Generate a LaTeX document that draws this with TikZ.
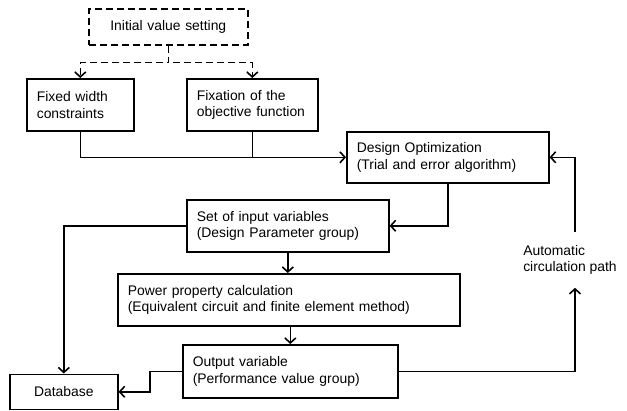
\documentclass[tikz,border=0pt]{standalone}
\usepackage{fontspec}
\setmainfont{Liberation Sans}
\usetikzlibrary{arrows.meta}

\begin{document}
\begin{tikzpicture}[
      x=1pt, y=-1pt, >={Straight Barb[length=5pt,width=11pt]},
      font=\fontsize{13.9}{16.7}\selectfont, line width=1.6pt,
      box/.style={draw, anchor=north west, align=left, inner xsep=10pt,
                  inner ysep=0pt},
      dbox/.style={box, dash pattern=on 7pt off 4pt, align=center},
    ]
    \useasboundingbox (0,0) rectangle (627,410);

    % setting boxes (top)
    \node[dbox, text width=139pt, minimum height=36pt] (init) at (88,8)
      {Initial value setting};
    \node[box, text width=87pt, minimum height=52pt] (fixw) at (26,78)
      {Fixed width\\constraints};
    \node[box, text width=111pt, minimum height=52pt] (fixo) at (186,78)
      {Fixation of the\\objective function};

    % optimization loop
    \node[box, text width=182pt, minimum height=51pt] (opt) at (346,131)
      {Design Optimization\\(Trial and error algorithm)};
    \node[box, text width=182pt, minimum height=52pt] (setv) at (186,199)
      {Set of input variables\\(Design Parameter group)};
    \node[box, text width=322pt, minimum height=52pt] (power) at (117,273)
      {Power property calculation\\(Equivalent circuit and finite element method)};
    \node[box, text width=195pt, minimum height=53pt] (outv) at (182,344)
      {Output variable\\(Performance value group)};
    \node[box, align=center, text width=88pt, minimum height=35pt] (db) at (9,373.5)
      {Database};
    \node[align=left, inner sep=0pt, minimum height=54pt] (loop) at (570,260)
      {Automatic\\circulation path};

    % arrows
    \draw[->, dash pattern=on 7pt off 4pt] (init.south) -- ++(0,17) -| (fixw.north);
    \draw[->, dash pattern=on 7pt off 4pt] (init.south) -- ++(0,17) -| (fixo.north);
    \draw[->] (fixw.south) |- (opt.west);
    \draw (fixo.south) -- (fixo.south |- opt.west);
    \draw[->] (opt.south) |- (setv.east);
    \draw[->] (setv.west) -| (db.north);
    \draw[->] (setv.south) -- (setv.south |- power.north);
    \draw[->] (power.south -| outv.north) -- (outv.north);
    \draw[->] (outv.west) -- ++(-32,0) |- (db.east);
    \draw[->] (outv.east) -| ([xshift=5pt]loop.south);
    \draw[->] ([xshift=5pt]loop.north) |- (opt.east);
  \end{tikzpicture}
\end{document}
